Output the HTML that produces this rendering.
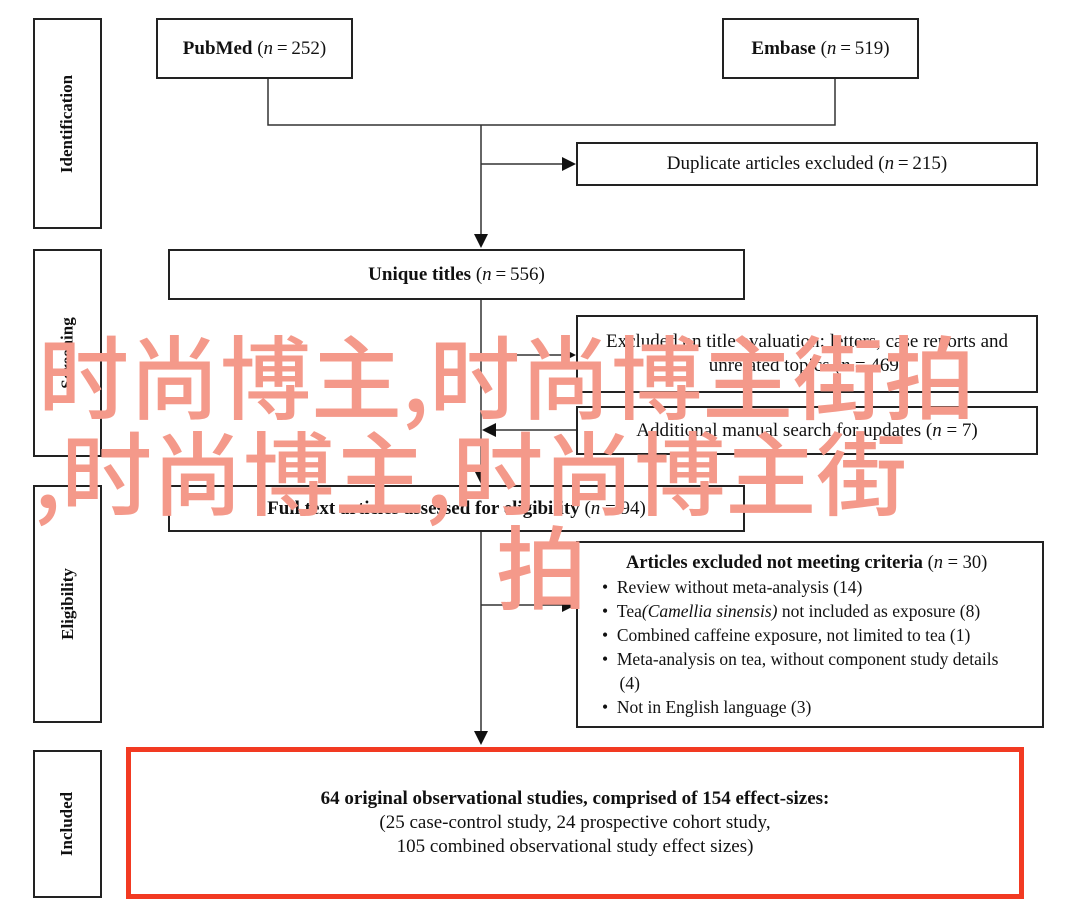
<!DOCTYPE html>
<html><head><meta charset="utf-8"><style>
body{margin:0;width:1080px;height:915px;background:#fff;position:relative;overflow:hidden;font-family:"Liberation Serif",serif;color:#111}
.b{position:absolute;border:2px solid #222;box-sizing:border-box;display:flex;align-items:center;justify-content:center;text-align:center;font-size:19px;line-height:24px}
.side span{transform:rotate(-90deg);white-space:nowrap;font-weight:bold;font-size:17px}
.ov{position:absolute;color:#f4998a;font-family:"Noto Sans CJK SC",sans-serif;font-size:91px;line-height:1;white-space:nowrap;font-weight:500}
svg{position:absolute;left:0;top:0}
</style></head><body>
<div class="b side" style="left:33px;top:18px;width:69px;height:211px"><span>Identification</span></div>
<div class="b side" style="left:33px;top:249px;width:69px;height:208px"><span>Screening</span></div>
<div class="b side" style="left:33px;top:485px;width:69px;height:238px"><span>Eligibility</span></div>
<div class="b side" style="left:33px;top:750px;width:69px;height:148px"><span>Included</span></div>

<div class="b" style="left:156px;top:18px;width:197px;height:61px"><span><b>PubMed</b> (<i>n</i>&#8201;=&#8201;252)</span></div>
<div class="b" style="left:722px;top:18px;width:197px;height:61px"><span><b>Embase</b> (<i>n</i>&#8201;=&#8201;519)</span></div>
<div class="b" style="left:576px;top:142px;width:462px;height:44px"><span>Duplicate articles excluded (<i>n</i>&#8201;=&#8201;215)</span></div>
<div class="b" style="left:168px;top:249px;width:577px;height:51px"><span><b>Unique titles</b> (<i>n</i>&#8201;=&#8201;556)</span></div>
<div class="b" style="left:576px;top:315px;width:462px;height:78px"><span>Excluded on title evaluation: letters, case reports and<br>unrelated topics (<i>n</i> = 469)</span></div>
<div class="b" style="left:576px;top:406px;width:462px;height:49px"><span>Additional manual search for updates (<i>n</i> = 7)</span></div>
<div class="b" style="left:168px;top:485px;width:577px;height:47px"><span><b>Full text articles assessed for eligibility</b> (<i>n</i> = 94)</span></div>
<div class="b" style="left:576px;top:541px;width:468px;height:187px;display:block;text-align:left;padding:8px 0 0 24px;font-size:17.5px;line-height:24px">
<div style="font-weight:bold;font-size:18.5px;margin-left:24px"><b>Articles excluded not meeting criteria</b> <span style="font-weight:normal">(<i>n</i> = 30)</span></div>
<div>•&nbsp;&nbsp;Review without meta-analysis (14)</div>
<div>•&nbsp;&nbsp;Tea<i>(Camellia sinensis)</i> not included as exposure (8)</div>
<div>•&nbsp;&nbsp;Combined caffeine exposure, not limited to tea (1)</div>
<div>•&nbsp;&nbsp;Meta-analysis on tea, without component study details<br>&nbsp;&nbsp;&nbsp;&nbsp;(4)</div>
<div>•&nbsp;&nbsp;Not in English language (3)</div>
</div>
<div class="b" style="left:126px;top:747px;width:898px;height:152px;border:5px solid #f23a22"><span><b>64 original observational studies, comprised of 154 effect-sizes:</b><br>(25 case-control study, 24 prospective cohort study,<br>105 combined observational study effect sizes)</span></div>

<svg width="1080" height="915">
<g stroke="#333" stroke-width="1.5" fill="none">
<polyline points="268,79 268,125 835,125 835,79"/>
<line x1="481" y1="125" x2="481" y2="240"/>
<line x1="481" y1="164" x2="562" y2="164"/>
<line x1="481" y1="300" x2="481" y2="476"/>
<line x1="481" y1="355" x2="562" y2="355"/>
<line x1="494" y1="430" x2="576" y2="430"/>
<line x1="481" y1="532" x2="481" y2="737"/>
<line x1="481" y1="605" x2="562" y2="605"/>
</g>
<g fill="#111">
<polygon points="474,234 488,234 481,248"/>
<polygon points="562,157 576,164 562,171"/>
<polygon points="562,348 576,355 562,362"/>
<polygon points="496,423 482,430 496,437"/>
<polygon points="474,470 488,470 481,484"/>
<polygon points="562,598 576,605 562,612"/>
<polygon points="474,731 488,731 481,745"/>
</g>
</svg>

<div class="ov" style="left:38px;top:328px">时尚博主,时尚博主街拍</div>
<div class="ov" style="left:34px;top:424px">,时尚博主,时尚博主街</div>
<div class="ov" style="left:496px;top:518px">拍</div>
</body></html>
